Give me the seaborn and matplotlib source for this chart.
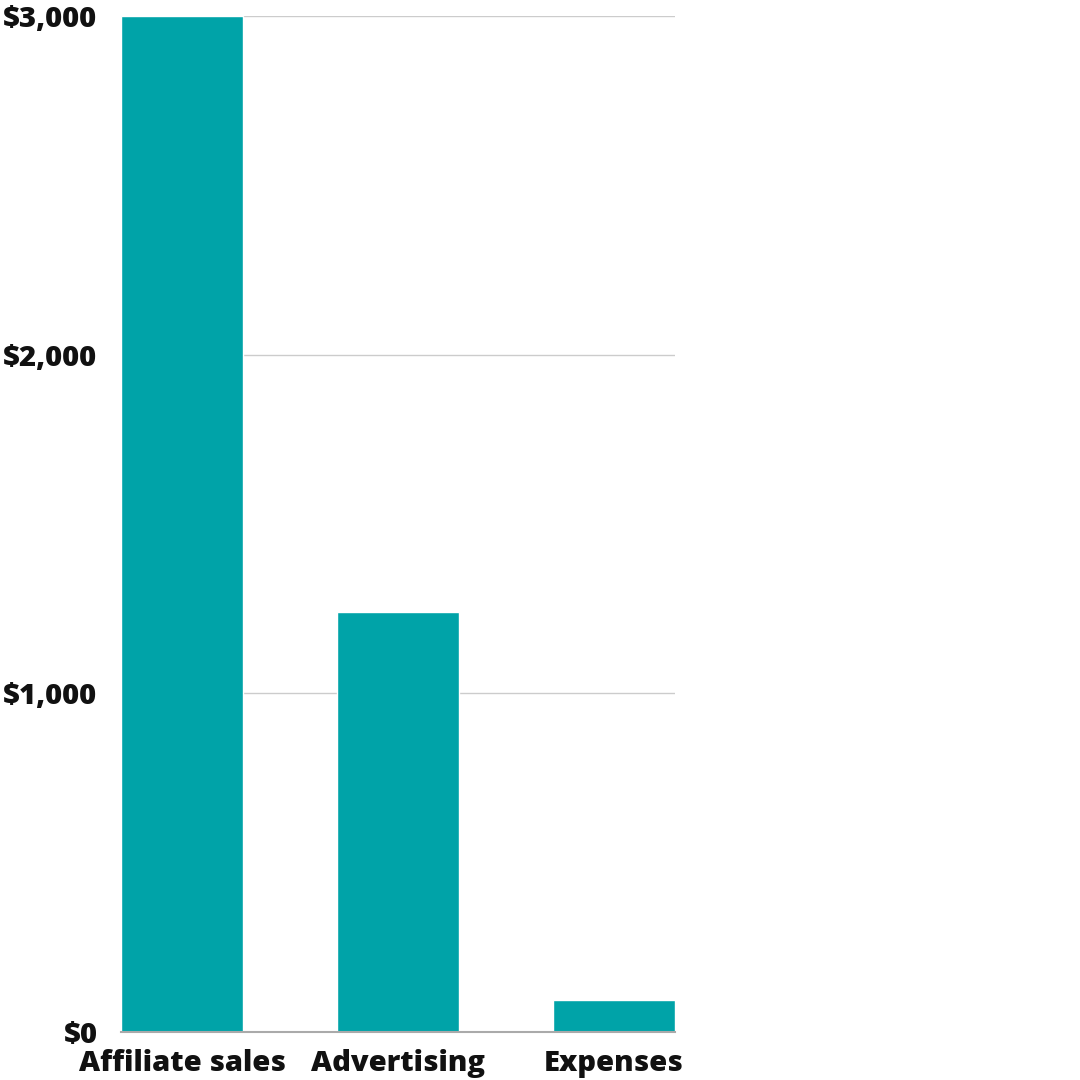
import matplotlib
matplotlib.use("Agg")
import matplotlib.pyplot as plt
import seaborn as sns
import pandas as pd
from matplotlib.ticker import FuncFormatter

categories = ["Affiliate sales", "Advertising", "Expenses"]
values = [3000, 1241, 94]
yticks = [0, 1000, 2000, 3000]

df = pd.DataFrame({"category": categories, "value": values})

sns.set_theme(style="white")
plt.rcParams['font.family'] = ['Open Sans', 'DejaVu Sans']

fig = plt.figure(figsize=(10.8, 10.8), dpi=100)
ax = fig.add_axes([121/1080, 1 - 1032/1080, (675-121)/1080, (1032-16)/1080])

sns.barplot(data=df, x="category", y="value", color="#00A3A8", saturation=1,
            width=122/216, ax=ax, zorder=3)

ax.set_xlim(-0.5*122/216, 2 + 0.5*122/216)
ax.set_ylim(0, 3000)
ax.set_yticks(yticks)
ax.yaxis.set_major_formatter(FuncFormatter(lambda v, p: f"${int(v):,}"))
ax.grid(axis="y", color="#cccccc", linewidth=1, zorder=0)
ax.set_axisbelow(True)
for s in ["top", "right", "left"]:
    ax.spines[s].set_visible(False)
ax.spines["bottom"].set_color("#aaaaaa")
ax.spines["bottom"].set_linewidth(1.5)
ax.spines["bottom"].set_zorder(5)
ax.set_xlabel("")
ax.set_ylabel("")
ax.tick_params(axis="y", length=0, pad=17, labelsize=21)
ax.tick_params(axis="x", length=0, pad=12, labelsize=21)
for lab in ax.get_xticklabels() + ax.get_yticklabels():
    lab.set_fontweight(800)
    lab.set_color("#111111")

fig.savefig("out.png", dpi=100, facecolor="white")
